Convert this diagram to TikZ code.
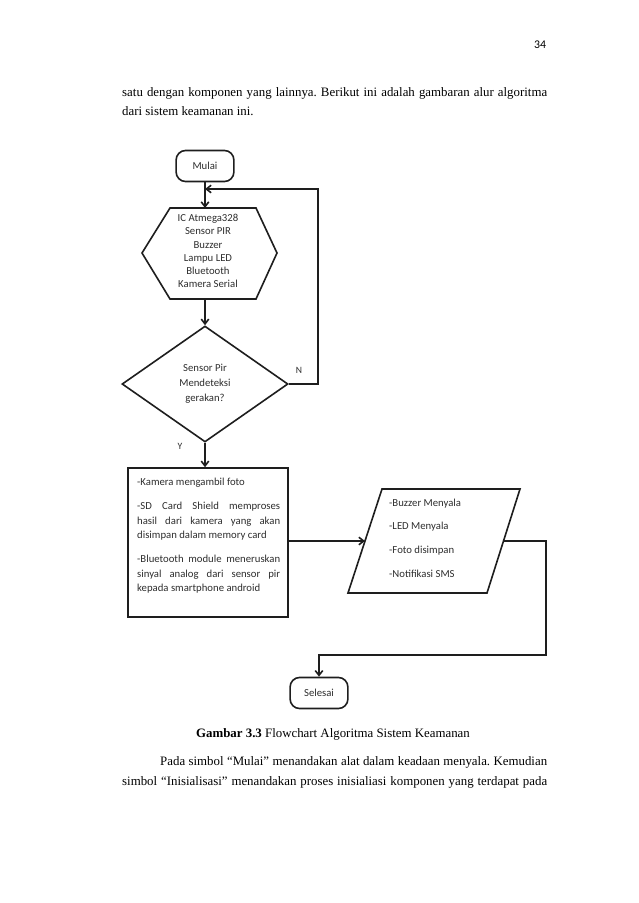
\documentclass[tikz,border=0pt]{standalone}
\usepackage{fontspec}
\setmainfont{Liberation Serif}
\newfontfamily\chartfont{Carlito}
\usetikzlibrary{shapes.geometric,arrows.meta}
\frenchspacing

\begin{document}
\begin{tikzpicture}[x=0.933pt,y=0.933pt,yscale=-1,xscale=1,
  flowline/.style={line width=1.5pt,draw={rgb,255:red,30;green,30;blue,30}},
  flowarrow/.style={flowline,-{Straight Barb[length=4.5pt,width=7pt]}},
  terminal/.style={flowline,rounded corners=9pt,minimum width=54pt,minimum height=29pt,inner sep=0pt,font=\chartfont\fontsize{10}{12}\selectfont,text={rgb,255:red,45;green,45;blue,45}},
  chart/.style={inner sep=0pt,font=\chartfont\fontsize{10}{12.3}\selectfont,text={rgb,255:red,45;green,45;blue,45}},
  body/.style={anchor=base west,inner sep=0pt,font=\fontsize{12}{14}\selectfont}]
\useasboundingbox (0,0) rectangle (638,903);

% Text Node
\node (halaman) [chart,font=\chartfont\fontsize{11}{13}\selectfont,text=black] at (540,45) {34};
% Text Node
\node (baris1) [body] at (122,96) {\makebox[396.5pt][s]{satu dengan komponen yang lainnya. Berikut ini adalah gambaran alur algoritma}};
% Text Node
\node (baris2) [body] at (122,115) {dari sistem keamanan ini.};

%Shape: Terminal [id:mulai]
\node (mulai) [terminal] at (205,166) {Mulai};

%Shape: Hexagon [id:inisialisasi]
\draw [flowline] (170,208) -- (256,208) -- (277,253) -- (256,299) -- (170,299) -- (142,253) -- cycle ;
\coordinate (initT) at (205,208);
\coordinate (initB) at (205,299);
\coordinate (loopIn) at (205,189);
% Text Node
\node (init) [chart,align=center] at (208,251) {IC Atmega328\\Sensor PIR\\Buzzer\\Lampu LED\\Bluetooth\\Kamera Serial};

%Shape: Diamond [id:cek]
\node (cek) [diamond,flowline,minimum width=154.9pt,minimum height=108.2pt,inner sep=0pt,align=center,font=\chartfont\fontsize{10}{14}\selectfont,text={rgb,255:red,45;green,45;blue,45}] at (205,384) {Sensor Pir\\Mendeteksi\\gerakan?};
\coordinate (loopR) at (318,189);

%Shape: Rectangle [id:proses]
\node (proses) [draw,flowline,minimum width=149.3pt,minimum height=139pt,inner sep=0pt] at (208,542.5) {};
% Text Node
\node (prosesisi) [chart,anchor=north west,align=left,font=\chartfont\fontsize{10}{13.5}\selectfont] at (137,478) {-Kamera mengambil foto\\[9pt]
\makebox[133.4pt][s]{-SD Card Shield memproses}\\
\makebox[133.4pt][s]{hasil dari kamera yang akan}\\
disimpan dalam memory card\\[9pt]
\makebox[133.4pt][s]{-Bluetooth module meneruskan}\\
\makebox[133.4pt][s]{sinyal analog dari sensor pir}\\
kepada smartphone android};

%Shape: Parallelogram [id:keluaran]
\draw [flowline] (382,489) -- (520,489) -- (487,593) -- (348,593) -- cycle ;
\coordinate (outL) at (365,541);
\coordinate (outR) at (504,541);
\coordinate (turnR) at (546,655);
% Text Node
\node (keluaran) [chart,anchor=west,align=left,font=\chartfont\fontsize{10}{22}\selectfont] at (389,538) {-Buzzer Menyala\\-LED Menyala\\-Foto disimpan\\-Notifikasi SMS};

%Shape: Terminal [id:selesai]
\node (selesai) [terminal] at (319,693) {Selesai};

%Straight Lines
\draw [flowarrow] (mulai.south) -- (initT);
\draw [flowarrow] (initB) -- (cek.north);
\draw [flowarrow] (cek.east) -| (loopR) -- (loopIn);
\draw [flowarrow] (cek.south) -- (cek.south |- proses.north);
\draw [flowarrow] (proses.east |- outL) -- (outL);
\draw [flowarrow] (outR) -| (turnR) -| (selesai.north);

% Text Node
\node (labN) [chart,font=\chartfont\fontsize{9}{11}\selectfont] at (299,370) {N};
% Text Node
\node (labY) [chart,font=\chartfont\fontsize{9}{11}\selectfont] at (180,446) {Y};

% Text Node
\node (judul) [anchor=base,inner sep=0pt,font=\fontsize{12}{14}\selectfont] at (333,737) {\textbf{Gambar 3.3} Flowchart Algoritma Sistem Keamanan};
% Text Node
\node (baris3) [body] at (160,765) {\makebox[361pt][s]{Pada simbol “Mulai” menandakan alat dalam keadaan menyala. Kemudian}};
% Text Node
\node (baris4) [body] at (122,785) {\makebox[396.5pt][s]{simbol “Inisialisasi” menandakan proses inisialiasi komponen yang terdapat pada}};

\end{tikzpicture}
\end{document}
